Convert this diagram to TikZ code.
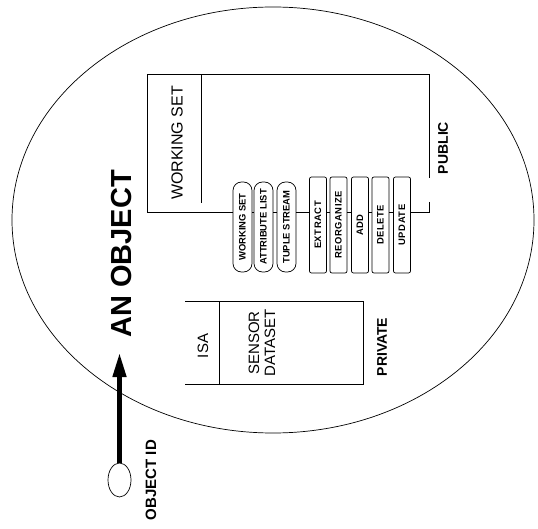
\documentclass[tikz,border=0pt]{standalone}
\usepackage{fontspec}
\setmainfont{Liberation Sans}
\usetikzlibrary{arrows.meta,shapes.geometric}
\tikzset{
  thinline/.style={line width=0.7pt},
  hline/.style={line width=1pt},
  lbl/.style={rotate=90, inner sep=0pt, font=\fontsize{15}{16}\selectfont},
  blbl/.style={rotate=90, inner sep=0pt, font=\bfseries\fontsize{14}{16}\selectfont},
  oval/.style={rotate=90, draw, line width=0.7pt, fill=white, rounded corners=8.5pt,
    minimum width=90pt, minimum height=19pt, inner sep=0pt,
    font=\bfseries\fontsize{9.4}{10}\selectfont},
  opbox/.style={rotate=90, draw, line width=0.7pt, fill=white, rounded corners=2pt,
    minimum width=96pt, minimum height=17pt, inner sep=0pt,
    font=\bfseries\fontsize{9.4}{10}\selectfont\addfontfeature{LetterSpace=6}},
}
\begin{document}
\begin{tikzpicture}[x=1pt,y=-1pt]
\useasboundingbox (0,0) rectangle (538,529);

% the object
\draw[thinline] (273,220) ellipse [x radius=261pt, y radius=213pt];
\node[rotate=90, inner sep=0pt, font=\bfseries\fontsize{29}{30}\selectfont] (title) at (122,254) {AN OBJECT};

% object id
\node[draw, ellipse, line width=0.7pt, minimum width=23pt, minimum height=34pt, inner sep=0pt] (oid) at (119.5,480) {};
\node[rotate=90, inner sep=0pt, font=\bfseries\fontsize{15}{16}\selectfont] (oidl) at (151,480) {OBJECT ID};
\coordinate (tip) at (119.5,353);
\draw[line width=4.5pt, -{Triangle[length=24pt,width=13pt]}] (oid.north) -- (tip);

% public working set
\coordinate (wsTL) at (147,75);
\coordinate (wsTR) at (429,75);
\coordinate (wsBL) at (147,213);
\coordinate (wsR1) at (429,178);
\coordinate (wsR2) at (429,202);
\coordinate (wsBR) at (429,213);
\coordinate (wsD1) at (201,75);
\coordinate (wsD2) at (201,203);
\draw[hline] (wsBL) -- (wsTL) -- (wsTR) -- (wsR1);
\draw[hline] (wsR2) -- (wsBR);
\draw[thinline] (wsD1) -- (wsD2);
\node[lbl, font=\fontsize{16}{17}\selectfont] (wslbl) at (177,143) {WORKING SET};
\node[blbl] (public) at (443,148) {PUBLIC};

% interface
\node[oval] (o1) at (242.5,227) {WORKING SET};
\node[oval] (o2) at (263.5,227) {ATTRIBUTE LIST};
\node[oval] (o3) at (286.5,227) {TUPLE STREAM};
\node[opbox] (e1) at (318,225) {EXTRACT};
\node[opbox] (e2) at (338.5,225) {REORGANIZE};
\node[opbox] (e3) at (360,225) {ADD};
\node[opbox] (e4) at (380.5,225) {DELETE};
\node[opbox] (e5) at (402,225) {UPDATE};
\draw[hline] (wsBL) -- (o1.north |- wsBL);
\draw[hline] (o1.south |- wsBL) -- (o2.north |- wsBL);
\draw[hline] (o2.south |- wsBL) -- (o3.north |- wsBL);
\draw[hline] (o3.south |- wsBL) -- (e1.north |- wsBL);
\draw[hline] (e1.south |- wsBL) -- (e2.north |- wsBL);
\draw[hline] (e2.south |- wsBL) -- (e3.north |- wsBL);
\draw[hline] (e3.south |- wsBL) -- (e4.north |- wsBL);
\draw[hline] (e4.south |- wsBL) -- (e5.north |- wsBL);
\draw[hline] (e5.south |- wsBL) -- (wsBR);

% private
\coordinate (pTL) at (185,302);
\coordinate (pTR) at (363,302);
\coordinate (pBL) at (185,384);
\coordinate (pBR) at (363,384);
\coordinate (pD1) at (219,302);
\coordinate (pD2) at (219,384);
\draw[hline] (pTL) -- (pTR) -- (pBR) -- (pBL);
\draw[thinline] (pD1) -- (pD2);
\node[lbl] (isa) at (203,346) {ISA};
\node[lbl, align=center] (sensor) at (262,343) {SENSOR\\DATASET};
\node[blbl] (private) at (382,347) {PRIVATE};
\end{tikzpicture}
\end{document}
